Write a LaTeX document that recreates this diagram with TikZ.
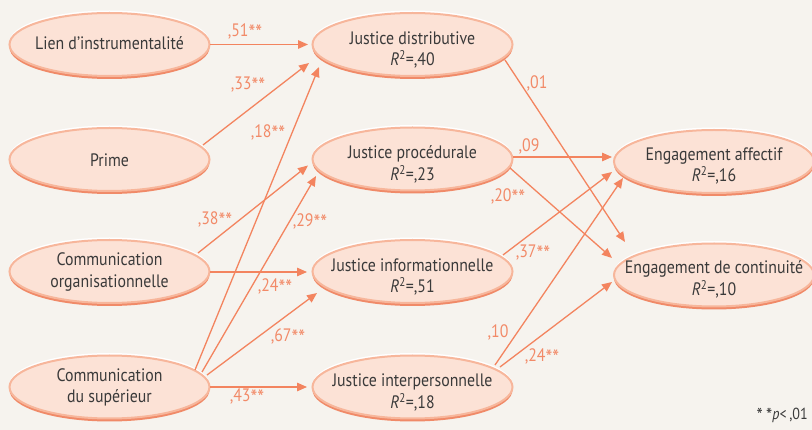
\documentclass[tikz,border=0pt]{standalone}
\usepackage{fontspec}
\setmainfont[FakeStretch=0.88]{PT Sans}
\usetikzlibrary{shapes.geometric,arrows.meta,shadows,calc}
\definecolor{bg}{HTML}{F6F3EE}
\definecolor{peach}{HTML}{FCE2D6}
\definecolor{rim}{HTML}{F7B69B}
\definecolor{shade}{HTML}{F08A68}
\definecolor{arr}{HTML}{F3845F}
\definecolor{lab}{HTML}{F28A68}
\definecolor{ink}{HTML}{3A3A3A}
\newcommand{\Rsq}[1]{\textit{R}\textsuperscript{2}=,#1}
\newcommand{\stars}{{\fontsize{22}{20}\selectfont\raisebox{-4.5pt}{**}}}
\begin{document}
\begin{tikzpicture}[x=1pt,y=-1pt,
  ell/.style={ellipse, minimum width=200pt, minimum height=63pt, inner sep=0pt,
     fill=peach, draw=rim, line width=2pt,
     general shadow={fill=white, shadow yshift=2.5pt},
     general shadow={fill=shade, shadow yshift=-3pt}},
  txt/.style={text=ink, align=center, inner sep=0pt, font=\fontsize{18}{21.5}\selectfont},
  wt/.style={text=lab, inner sep=0pt, font=\fontsize{18}{20}\selectfont},
  link/.style={draw=arr, line width=1.3pt, -{Triangle[length=10pt,width=8.5pt]}}
]
\fill[bg] (0,0) rectangle (812,430);
\useasboundingbox (0,0) rectangle (812,430);

% left column
\node[ell] (lien) at (109.5,44.5) {};
\node[txt] (lien-t) at (109.5,43.5) {Lien d’instrumentalité};
\node[ell] (prime) at (109.5,159.5) {};
\node[txt] (prime-t) at (109.5,160) {Prime};
\node[ell] (comorg) at (109.5,271.5) {};
\node[txt] (comorg-t) at (109.5,272) {Communication\\organisationnelle};
\node[ell] (comsup) at (109.5,387) {};
\node[txt] (comsup-t) at (109.5,387.5) {Communication\\du supérieur};

% middle column
\node[ell] (jd) at (412.5,44.5) {};
\node[txt] (jd-t) at (412.5,50) {Justice distributive\\\Rsq{40}};
\node[ell] (jp) at (412.5,159) {};
\node[txt] (jp-t) at (412.5,164.5) {Justice procédurale\\\Rsq{23}};
\node[ell] (ji) at (412.5,271.5) {};
\node[txt] (ji-t) at (412.5,277) {Justice informationnelle\\\Rsq{51}};
\node[ell] (jinter) at (412.5,387) {};
\node[txt] (jinter-t) at (412.5,392.5) {Justice interpersonnelle\\\Rsq{18}};

% right column
\node[ell] (ea) at (714,161.5) {};
\node[txt] (ea-t) at (714,166) {Engagement affectif\\\Rsq{16}};
\node[ell] (ec) at (714,275) {};
\node[txt] (ec-t) at (714,279.5) {Engagement de continuité\\\Rsq{10}};

% connectors
\draw[link] ($(lien)+(100.5,0)$) -- ($(jd)+(-104.5,0)$);
\draw[link] ($(prime)+(93.5,-14.5)$) -- ($(jd)+(-103.5,18.5)$);
\draw[link] ($(comsup)+(85.5,-17)$) -- ($(jd)+(-93.5,22.5)$);
\draw[link] ($(comorg)+(88.5,-18.5)$) -- ($(jp)+(-104.5,6.5)$);
\draw[link] ($(comsup)+(92.5,-15)$) -- ($(jp)+(-96.5,17)$);
\draw[link] ($(comorg)+(100.5,0.5)$) -- ($(ji)+(-105.5,0.5)$);
\draw[link] ($(comsup)+(97.5,-12)$) -- ($(ji)+(-95.5,21.5)$);
\draw[link] ($(comsup)+(100.5,0)$) -- ($(jinter)+(-105.5,0)$);
\draw[link] ($(jd)+(92.5,15.5)$) -- ($(ec)+(-89,-33)$);
\draw[link] ($(jp)+(100.5,-2)$) -- ($(ea)+(-102,-4.5)$);
\draw[link] ($(jp)+(97.5,9)$) -- ($(ec)+(-102,-17)$);
\draw[link] ($(ji)+(90.5,-16.5)$) -- ($(ea)+(-102,10.5)$);
\draw[link] ($(jinter)+(82.5,-22)$) -- ($(ea)+(-91,16.5)$);
\draw[link] ($(jinter)+(87.5,-20)$) -- ($(ec)+(-102,7)$);

% coefficients
\node[wt] (w1) at (245,32) {,51\stars};
\node[wt] (w2) at (248,85) {,33\stars};
\node[wt] (w3) at (268,133) {,18\stars};
\node[wt] (w4) at (215,220) {,38\stars};
\node[wt] (w5) at (310,222) {,29\stars};
\node[wt] (w6) at (275,287) {,24\stars};
\node[wt] (w7) at (288,337) {,67\stars};
\node[wt] (w8) at (247,397) {,43\stars};
\node[wt] (w9) at (537,83) {,01};
\node[wt] (w10) at (529,146) {,09};
\node[wt] (w11) at (508,197) {,20\stars};
\node[wt] (w12) at (533,253) {,37\stars};
\node[wt] (w13) at (498,332) {,10};
\node[wt] (w14) at (542,357) {,24\stars};

\node[text=ink, inner sep=0pt, anchor=east, font=\fontsize{16}{18}\selectfont] (note) at (808,415) {{\fontsize{20}{18}\selectfont\raisebox{-3pt}{*\,*}}\textit{p}<\,,01};
\end{tikzpicture}
\end{document}
